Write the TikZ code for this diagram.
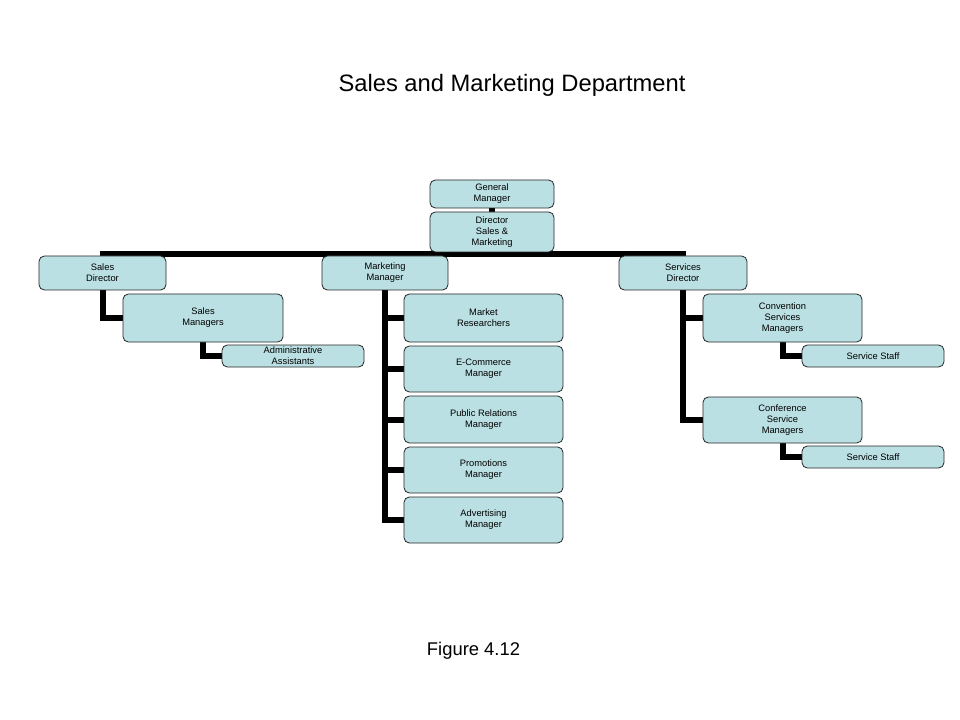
\documentclass[tikz,border=0pt]{standalone}
\usepackage{fontspec}
\setmainfont{Liberation Sans}
\usepackage{tikz}
\usetikzlibrary{calc,backgrounds}
\definecolor{boxblue}{RGB}{187,224,227}
\tikzset{unit/.style={draw=black!85, line width=0.6pt, fill=boxblue, rounded corners=4pt,
  align=center, inner sep=0pt, font=\fontsize{7}{8.2}\selectfont},
  boxsize/.style 2 args={minimum width=#1*0.75pt, minimum height=#2*0.75pt},
  link/.style={line width=4.5pt, black}}

\begin{document}
\begin{tikzpicture}[x=0.75pt,y=-0.75pt]
\useasboundingbox (0,0) rectangle (960,720);
\node[font=\fontsize{17.8}{21}\selectfont, anchor=base] (title) at (512,92) {Sales and Marketing Department};
\node[font=\fontsize{13.8}{16}\selectfont, anchor=base] (fig) at (473.5,655) {Figure 4.12};
% top of the chart
\node[unit, boxsize={124}{28}] (gm) at (492,194) {General\\Manager};
\node[unit, boxsize={124}{40}] (dsm) at (492,232) {Director\\Sales \&\\Marketing};
% second row
\node[unit, boxsize={127}{34}] (sd) at (102.5,273) {Sales\\Director};
\node[unit, boxsize={126}{34}] (mm) at (385,273) {Marketing\\Manager};
\node[unit, boxsize={128}{34}] (svd) at (683,273) {Services\\Director};
% sales
\node[unit, boxsize={160}{48}] (sm) at (203,318) {Sales\\Managers};
\node[unit, boxsize={142}{22}] (aa) at (293,356) {Administrative\\Assistants};
% marketing
\node[unit, boxsize={159}{48}] (mr) at (483.5,318) {Market\\Researchers};
\node[unit, boxsize={159}{46}] (ec) at (483.5,369) {E-Commerce\\Manager};
\node[unit, boxsize={159}{47}] (pr) at (483.5,419.5) {Public Relations\\Manager};
\node[unit, boxsize={159}{46}] (pm) at (483.5,470) {Promotions\\Manager};
\node[unit, boxsize={159}{46}] (am) at (483.5,520) {Advertising\\Manager};
% services
\node[unit, boxsize={159}{48}] (csm) at (782.5,318) {Convention\\Services\\Managers};
\node[unit, boxsize={142}{22}] (ssa) at (873,356) {Service Staff};
\node[unit, boxsize={159}{46}] (cfsm) at (782.5,420) {Conference\\Service\\Managers};
\node[unit, boxsize={142}{22}] (ssb) at (873,457) {Service Staff};
\coordinate (bus) at ($(dsm.south)!0.5!(mm.north)$);
\begin{scope}[on background layer]
\draw[link] (gm) -- (dsm);
\draw[link] (dsm.south) -- (bus) -- (mm.north);
\draw[link] (sd.north) |- (bus) -| (svd.north);
\draw[link] (sd.south) |- (sm.west);
\draw[link] (sm.south) |- (aa.west);
\foreach \n in {mr,ec,pr,pm,am}
  \draw[link] (mm.south) |- (\n.west);
\foreach \n in {csm,cfsm}
  \draw[link] (svd.south) |- (\n.west);
\draw[link] (csm.south) |- (ssa.west);
\draw[link] (cfsm.south) |- (ssb.west);
\end{scope}
\end{tikzpicture}
\end{document}
